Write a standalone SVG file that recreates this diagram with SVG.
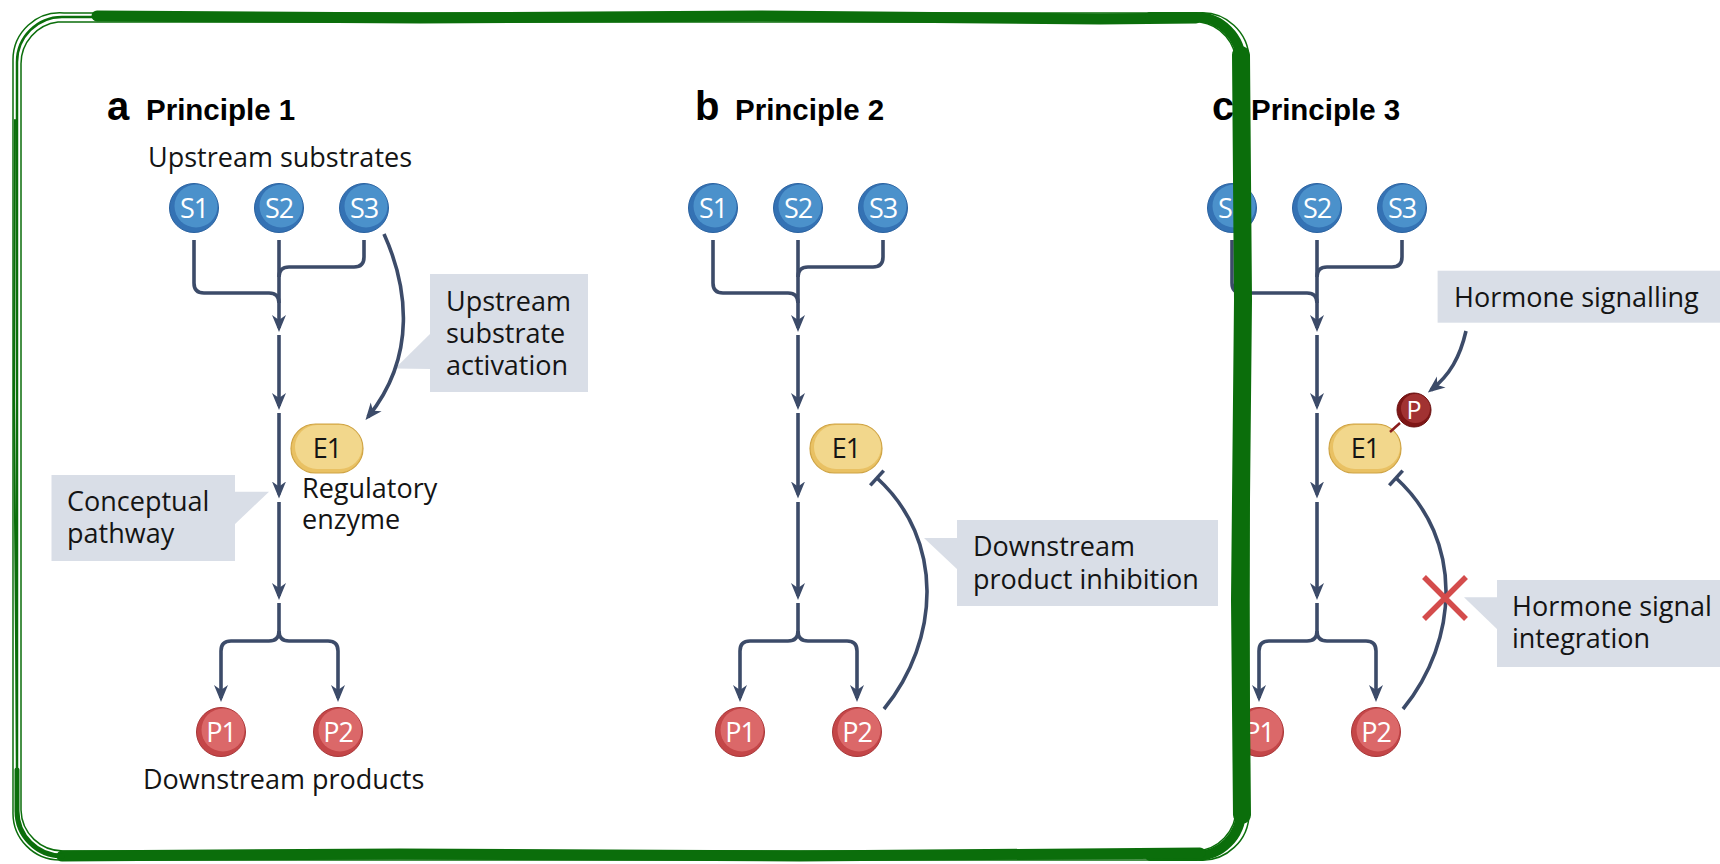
<svg xmlns="http://www.w3.org/2000/svg" width="1720" height="864" viewBox="0 0 1720 864">
<defs>
<style>
.ln{fill:none;stroke:#3c4b69;stroke-width:3.6}
.ar{marker-end:url(#ah)}
.co{fill:#d9dee7}
.lbl{font-family:"Open Sans","Noto Sans","DejaVu Sans",sans-serif;font-size:27px;fill:#141414}
.ttl{font-family:"Liberation Sans",Arial,sans-serif;font-weight:bold;font-size:29.5px;fill:#000}
.let{font-family:"Liberation Sans",Arial,sans-serif;font-weight:bold;font-size:40px;fill:#000}
.nt{font-family:"Open Sans","Noto Sans",sans-serif;font-size:27px;fill:#fff;text-anchor:middle;letter-spacing:-1px}
.et{font-family:"Open Sans","Noto Sans",sans-serif;font-size:27px;fill:#141414;text-anchor:middle;letter-spacing:-1px}
.sB{fill:#3472b4;stroke:#2a62a0;stroke-width:1}
.sH{fill:#4b91cb}
.pB{fill:#c44648;stroke:#a83638;stroke-width:1}
.pH{fill:#db6869}
.eB{fill:#e9c163;stroke:#cfa445;stroke-width:1.2}
.eH{fill:#f2d78c}
.gr{fill:none;stroke:#0b6e0b;stroke-linecap:round;stroke-linejoin:round}
</style>
<marker id="ah" viewBox="0 0 17 15" refX="13" refY="7.5" markerWidth="17" markerHeight="15" markerUnits="userSpaceOnUse" orient="auto">
<path d="M0,0.5 L17,7.5 L0,14.5 L5,7.5 Z" fill="#3c4b69"/>
</marker>
</defs>
<rect width="1720" height="864" fill="#fff"/>

<g id="titles">
<text class="let" x="107" y="120">a</text><text class="ttl" x="146" y="120">Principle 1</text>
<text class="let" x="695" y="120">b</text><text class="ttl" x="735" y="120">Principle 2</text>
<text class="let" x="1212" y="120">c</text><text class="ttl" x="1251" y="120">Principle 3</text>
</g>

<g id="callout-activation">
<rect class="co" x="430" y="274" width="158" height="118"/>
<polygon class="co" points="431,333 395,368.5 431,369"/>
<text class="lbl" x="446" y="311">Upstream</text>
<text class="lbl" x="446" y="343">substrate</text>
<text class="lbl" x="446" y="374.5">activation</text>
</g>
<g id="callout-pathway">
<rect class="co" x="51.5" y="475" width="183.5" height="86"/>
<polygon class="co" points="234,491.7 269,491.7 234,525"/>
<text class="lbl" x="67" y="511">Conceptual</text>
<text class="lbl" x="67" y="543">pathway</text>
</g>
<g id="callout-inhibition">
<rect class="co" x="957" y="520" width="261" height="86"/>
<polygon class="co" points="958,538 924,538 958,570"/>
<text class="lbl" x="973" y="556">Downstream</text>
<text class="lbl" x="973" y="589">product inhibition</text>
</g>
<g id="callout-hormone">
<rect class="co" x="1437.6" y="270.7" width="282.4" height="52"/>
<text class="lbl" x="1454" y="307">Hormone signalling</text>
</g>
<g id="callout-integration">
<rect class="co" x="1497" y="580" width="223" height="87"/>
<polygon class="co" points="1498,597.3 1464,597.3 1498,630"/>
<text class="lbl" x="1512" y="616">Hormone signal</text>
<text class="lbl" x="1512" y="648">integration</text>
</g>

<g id="labels">
<text class="lbl" x="148" y="167">Upstream substrates</text>
<text class="lbl" x="302" y="498">Regulatory</text>
<text class="lbl" x="302" y="529">enzyme</text>
<text class="lbl" x="143" y="789">Downstream products</text>
</g>

<g id="connectors">
<path class="ln" d="M194,240 V283 Q194,293 204,293 H269 Q279,293 279,303"/>
<path class="ln" d="M364,240 V257 Q364,267 354,267 H289 Q279,267 279,277"/>
<path class="ln ar" d="M279,240 V328"/>
<path class="ln ar" d="M279,335 V406"/>
<path class="ln ar" d="M279,413 V494.5"/>
<path class="ln ar" d="M279,502 V596"/>
<path class="ln ar" d="M279,603 V631 Q279,641 269,641 H231 Q221,641 221,651 V698"/>
<path class="ln ar" d="M279,631 Q279,641 289,641 H328 Q338,641 338,651 V698"/>
<path class="ln ar" d="M384,234 C407,285 418,355 368,417"/>

<path class="ln" d="M713,240 V283 Q713,293 723,293 H788 Q798,293 798,303"/>
<path class="ln" d="M883,240 V257 Q883,267 873,267 H808 Q798,267 798,277"/>
<path class="ln ar" d="M798,240 V328"/>
<path class="ln ar" d="M798,335 V406"/>
<path class="ln ar" d="M798,413 V494.5"/>
<path class="ln ar" d="M798,502 V596"/>
<path class="ln ar" d="M798,603 V631 Q798,641 788,641 H750 Q740,641 740,651 V698"/>
<path class="ln ar" d="M798,631 Q798,641 808,641 H847 Q857,641 857,651 V698"/>
<path class="ln" d="M884,709 C940,640 945,540 877,478"/>
<path class="ln" d="M883.7,470.6 L870.3,485.4"/>

<path class="ln" d="M1232,240 V283 Q1232,293 1242,293 H1307 Q1317,293 1317,303"/>
<path class="ln" d="M1402,240 V257 Q1402,267 1392,267 H1327 Q1317,267 1317,277"/>
<path class="ln ar" d="M1317,240 V328"/>
<path class="ln ar" d="M1317,335 V406"/>
<path class="ln ar" d="M1317,413 V494.5"/>
<path class="ln ar" d="M1317,502 V596"/>
<path class="ln ar" d="M1317,603 V631 Q1317,641 1307,641 H1269 Q1259,641 1259,651 V698"/>
<path class="ln ar" d="M1317,631 Q1317,641 1327,641 H1366 Q1376,641 1376,651 V698"/>
<path class="ln" d="M1403,709 C1459,640 1464,540 1396,478"/>
<path class="ln" d="M1402.7,470.6 L1389.3,485.4"/>
<path class="ln ar" d="M1466,331 C1460,357 1450,375 1431,390"/>
<path d="M1424,577 L1466,619 M1424,619 L1466,577" stroke="#d44c4c" stroke-width="5.5" fill="none"/>
</g>

<g id="a-S1"><circle class="sB" cx="194" cy="208" r="24.5"/><circle class="sH" cx="196" cy="206" r="21.5"/><text class="nt" x="194" y="217.6">S1</text></g>
<g id="a-S2"><circle class="sB" cx="279" cy="208" r="24.5"/><circle class="sH" cx="281" cy="206" r="21.5"/><text class="nt" x="279" y="217.6">S2</text></g>
<g id="a-S3"><circle class="sB" cx="364" cy="208" r="24.5"/><circle class="sH" cx="366" cy="206" r="21.5"/><text class="nt" x="364" y="217.6">S3</text></g>
<g id="a-E1"><rect class="eB" x="291" y="424" width="72" height="49" rx="24.5"/><rect class="eH" x="295" y="425" width="67" height="44" rx="22"/><text class="et" x="327" y="458.3">E1</text></g>
<g id="a-P1"><circle class="pB" cx="221" cy="732" r="24.5"/><circle class="pH" cx="223" cy="730" r="21.5"/><text class="nt" x="221" y="741.6">P1</text></g>
<g id="a-P2"><circle class="pB" cx="338" cy="732" r="24.5"/><circle class="pH" cx="340" cy="730" r="21.5"/><text class="nt" x="338" y="741.6">P2</text></g>

<g id="b-S1"><circle class="sB" cx="713" cy="208" r="24.5"/><circle class="sH" cx="715" cy="206" r="21.5"/><text class="nt" x="713" y="217.6">S1</text></g>
<g id="b-S2"><circle class="sB" cx="798" cy="208" r="24.5"/><circle class="sH" cx="800" cy="206" r="21.5"/><text class="nt" x="798" y="217.6">S2</text></g>
<g id="b-S3"><circle class="sB" cx="883" cy="208" r="24.5"/><circle class="sH" cx="885" cy="206" r="21.5"/><text class="nt" x="883" y="217.6">S3</text></g>
<g id="b-E1"><rect class="eB" x="810" y="424" width="72" height="49" rx="24.5"/><rect class="eH" x="814" y="425" width="67" height="44" rx="22"/><text class="et" x="846" y="458.3">E1</text></g>
<g id="b-P1"><circle class="pB" cx="740" cy="732" r="24.5"/><circle class="pH" cx="742" cy="730" r="21.5"/><text class="nt" x="740" y="741.6">P1</text></g>
<g id="b-P2"><circle class="pB" cx="857" cy="732" r="24.5"/><circle class="pH" cx="859" cy="730" r="21.5"/><text class="nt" x="857" y="741.6">P2</text></g>

<g id="c-S1"><circle class="sB" cx="1232" cy="208" r="24.5"/><circle class="sH" cx="1234" cy="206" r="21.5"/><text class="nt" x="1232" y="217.6">S1</text></g>
<g id="c-S2"><circle class="sB" cx="1317" cy="208" r="24.5"/><circle class="sH" cx="1319" cy="206" r="21.5"/><text class="nt" x="1317" y="217.6">S2</text></g>
<g id="c-S3"><circle class="sB" cx="1402" cy="208" r="24.5"/><circle class="sH" cx="1404" cy="206" r="21.5"/><text class="nt" x="1402" y="217.6">S3</text></g>
<g id="c-E1"><rect class="eB" x="1329" y="424" width="72" height="49" rx="24.5"/><rect class="eH" x="1333" y="425" width="67" height="44" rx="22"/><text class="et" x="1365" y="458.3">E1</text></g>
<g id="c-phospho"><path d="M1400,423 L1390,432" stroke="#8a1c1c" stroke-width="2.5"/><circle cx="1414" cy="410" r="17" fill="#7e1616" stroke="#6a1010" stroke-width="1"/><circle cx="1415.5" cy="408.5" r="14.5" fill="#a13232"/><text class="nt" x="1414" y="419" style="font-size:25px;letter-spacing:0">P</text></g>
<g id="c-P1"><circle class="pB" cx="1259" cy="732" r="24.5"/><circle class="pH" cx="1261" cy="730" r="21.5"/><text class="nt" x="1259" y="741.6">P1</text></g>
<g id="c-P2"><circle class="pB" cx="1376" cy="732" r="24.5"/><circle class="pH" cx="1378" cy="730" r="21.5"/><text class="nt" x="1376" y="741.6">P2</text></g>

<g id="annotation-frame" class="gr">
<path d="M62,17 H1196 A45,45 0 0 1 1241,62 V811 A45,45 0 0 1 1196,856 H62 A45,45 0 0 1 17,811 V62 A45,45 0 0 1 62,17 Z" stroke-width="2.5"/>
<path d="M58,22 H1200 A42,42 0 0 1 1236,64 V809 A42,42 0 0 1 1196,851 H64 A42,42 0 0 1 21,810 V64 A42,42 0 0 1 58,22 Z" stroke-width="1.5"/>
<path d="M64,13 H1198 A47,47 0 0 1 1249,60 V812 A47,47 0 0 1 1198,860 H60 A47,47 0 0 1 13,812 V60 A47,47 0 0 1 64,13 Z" stroke-width="1.5"/>
<path d="M97,16 L420,18 L760,16 L1100,19 L1196,18" stroke-width="11"/>
<path d="M1150,17 H1196 A45,45 0 0 1 1241,62 V811 A45,45 0 0 1 1196,856 H1150" stroke-width="10"/>
<path d="M1241,55 L1243,300 L1240,600 L1242,815" stroke-width="18"/>
<path d="M62,856 L400,854 L800,856 L1200,853" stroke-width="11"/>
<path d="M17,770 V811 A45,45 0 0 0 62,856" stroke-width="5"/>
<path d="M15,120 L14,400 L17,760" stroke-width="2"/>
</g>
</svg>
